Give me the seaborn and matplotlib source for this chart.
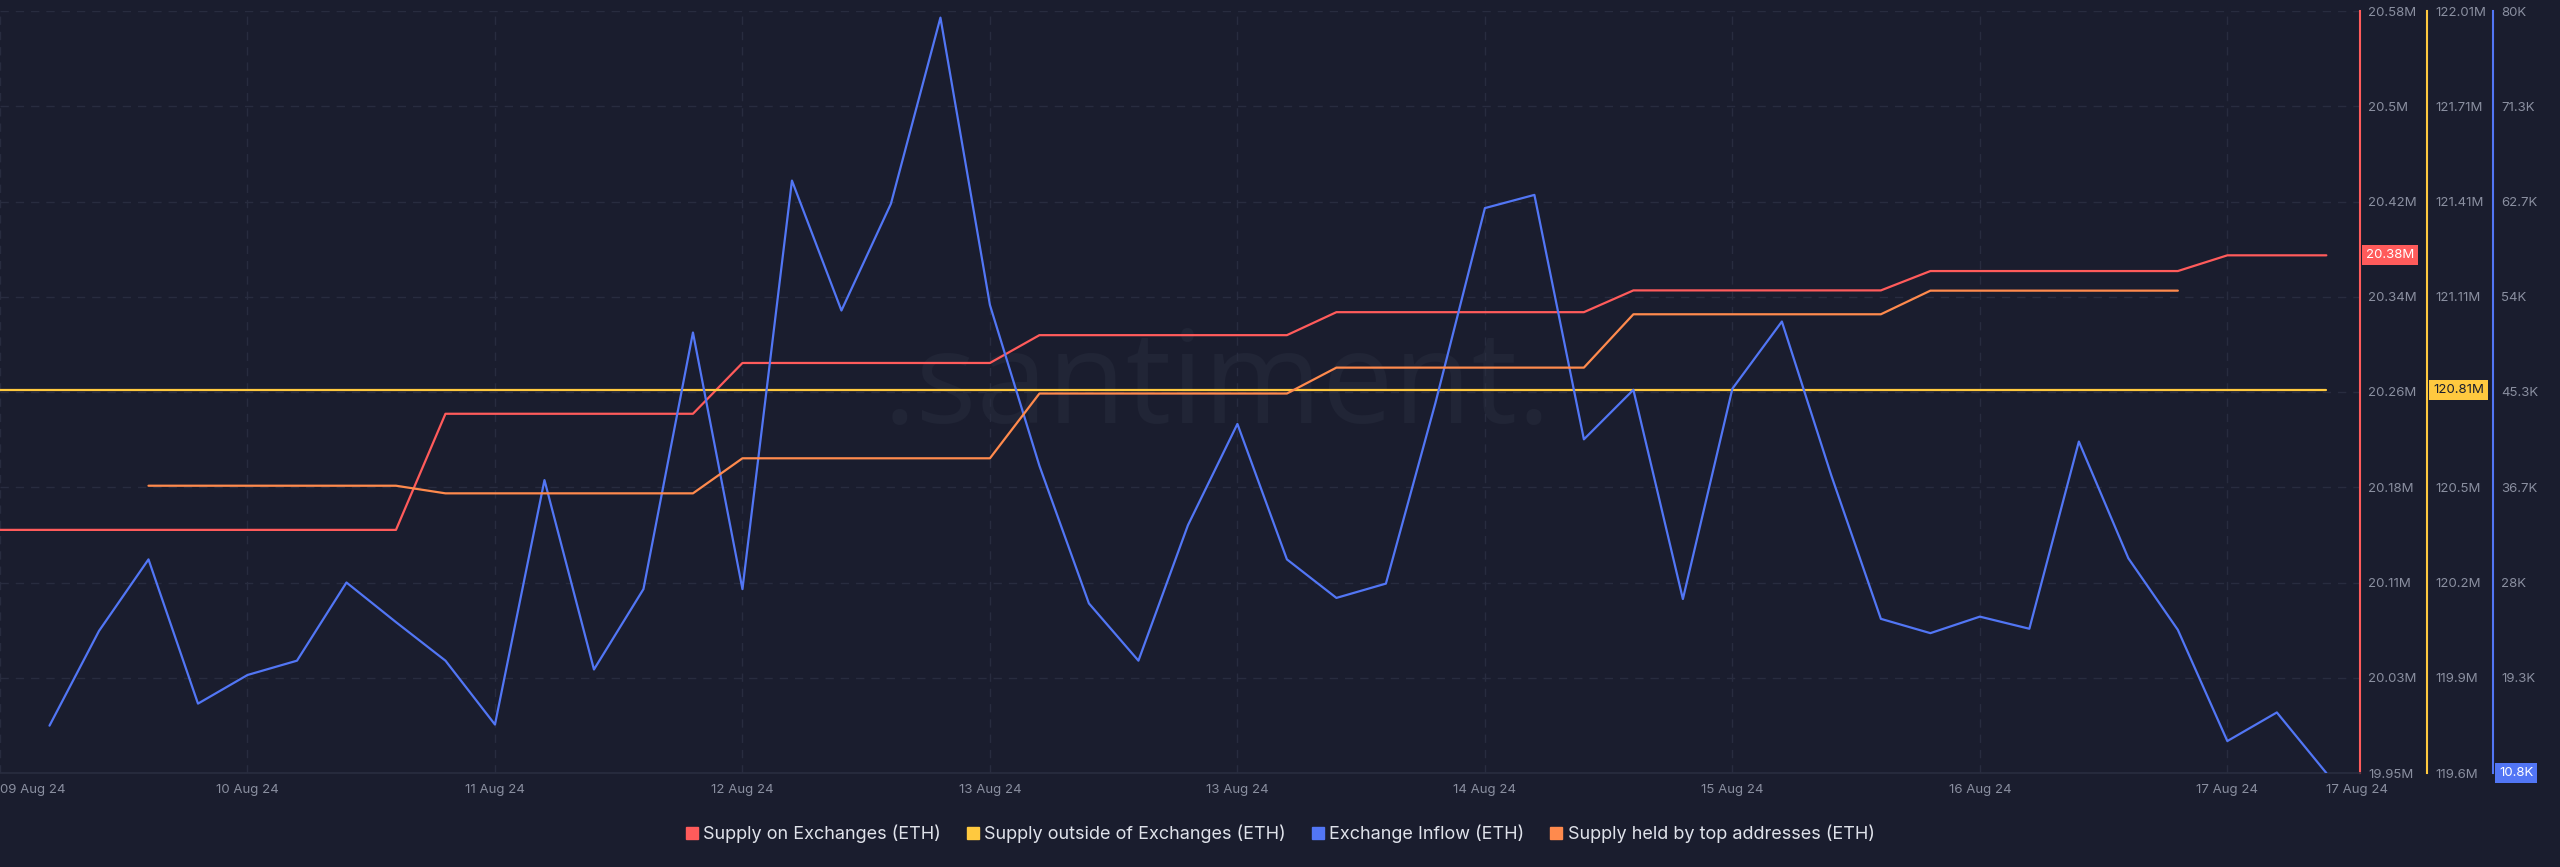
import numpy as np
import pandas as pd
import seaborn as sns
import matplotlib
matplotlib.use("Agg")
from matplotlib import pyplot as plt
from matplotlib.lines import Line2D

# colours
BG = "#1a1d2e"
GRID = "#282c3f"
TICK_TXT = "#8a8fa0"
RED = "#ff5b5b"
YELLOW = "#ffc93f"
BLUE = "#5276f5"
ORANGE = "#ff8a4d"

# x axis: one point every ~4h, labels as shown on the chart
tick_pos = [0, 5, 10, 15, 20, 25, 30, 35, 40, 45, 47]
tick_labels = ["09 Aug 24", "10 Aug 24", "11 Aug 24", "12 Aug 24", "13 Aug 24",
               "13 Aug 24", "14 Aug 24", "15 Aug 24", "16 Aug 24", "17 Aug 24", "17 Aug 24"]

# Supply on Exchanges (ETH), millions, points 0..47
supply_on_exchanges = [20.151, 20.151, 20.151, 20.151, 20.151, 20.151, 20.151, 20.151, 20.151,
                       20.247, 20.247, 20.247, 20.247, 20.247, 20.247,
                       20.289, 20.289, 20.289, 20.289, 20.289, 20.289,
                       20.312, 20.312, 20.312, 20.312, 20.312, 20.312,
                       20.331, 20.331, 20.331, 20.331, 20.331, 20.331,
                       20.349, 20.349, 20.349, 20.349, 20.349, 20.349,
                       20.365, 20.365, 20.365, 20.365, 20.365, 20.365,
                       20.378, 20.378, 20.378]

# Supply outside of Exchanges (ETH), millions, points 0..47
supply_outside = [120.81, 120.81, 120.81, 120.81, 120.81, 120.81, 120.81, 120.81,
                  120.81, 120.81, 120.81, 120.81, 120.81, 120.81, 120.81, 120.81,
                  120.81, 120.81, 120.81, 120.81, 120.81, 120.81, 120.81, 120.81,
                  120.81, 120.81, 120.81, 120.81, 120.81, 120.81, 120.81, 120.81,
                  120.81, 120.81, 120.81, 120.81, 120.81, 120.81, 120.81, 120.81,
                  120.81, 120.81, 120.81, 120.81, 120.81, 120.81, 120.81, 120.81]

# Exchange Inflow (ETH), thousands, points 1..47
inflow_start = 1
exchange_inflow = [15.1, 23.7, 30.2, 17.1, 19.7, 21.0, 28.1, 24.5, 21.0, 15.2,
                   37.4, 20.2, 27.5, 50.8, 27.5, 64.6, 52.8, 62.5, 79.4, 53.3,
                   38.7, 26.2, 21.0, 33.3, 42.5, 30.2, 26.7, 28.0, 44.4, 62.1,
                   63.3, 41.1, 45.6, 26.6, 45.7, 51.8, 37.8, 24.8, 23.5, 25.0,
                   23.9, 40.9, 30.3, 23.8, 13.7, 16.3, 10.8]

# Supply held by top addresses (ETH), millions, points 3..44 (own hidden scale)
top_start = 3
top_addresses = [70.277, 70.277, 70.277, 70.277, 70.277, 70.277,
                 70.267, 70.267, 70.267, 70.267, 70.267, 70.267,
                 70.313, 70.313, 70.313, 70.313, 70.313, 70.313,
                 70.398, 70.398, 70.398, 70.398, 70.398, 70.398,
                 70.432, 70.432, 70.432, 70.432, 70.432, 70.432,
                 70.502, 70.502, 70.502, 70.502, 70.502, 70.502,
                 70.533, 70.533, 70.533, 70.533, 70.533, 70.533]

red_ticks = ["19.95M", "20.03M", "20.11M", "20.18M", "20.26M", "20.34M", "20.42M", "20.5M", "20.58M"]
yellow_ticks = ["119.6M", "119.9M", "120.2M", "120.5M", "120.81M", "121.11M", "121.41M", "121.71M", "122.01M"]
blue_ticks = ["10.8K", "19.3K", "28K", "36.7K", "45.3K", "54K", "62.7K", "71.3K", "80K"]

red_lim = (19.95, 20.58)
yellow_lim = (119.6, 122.01)
blue_lim = (10.8, 80.0)
top_lim = (69.90, 70.90)

sns.set_theme(style="dark", rc={"axes.facecolor": BG, "figure.facecolor": BG})
plt.rcParams["font.family"] = ["Inter", "DejaVu Sans"]

red_df = pd.DataFrame({"idx": np.arange(len(supply_on_exchanges)), "value": supply_on_exchanges})
yellow_df = pd.DataFrame({"idx": np.arange(len(supply_outside)), "value": supply_outside})
blue_df = pd.DataFrame({"idx": np.arange(len(exchange_inflow)) + inflow_start, "value": exchange_inflow})
top_df = pd.DataFrame({"idx": np.arange(len(top_addresses)) + top_start, "value": top_addresses})

W, H = 2560, 867
fig = plt.figure(figsize=(W / 100, H / 100), dpi=100)
ax_right_px, ax_top_px, ax_bot_px = 2360, 11, 773
ax = fig.add_axes([0, 1 - ax_bot_px / H, ax_right_px / W, (ax_bot_px - ax_top_px) / H])
ax.set_facecolor(BG)

x_end = 47.68

ax2 = ax.twinx()
ax3 = ax.twinx()
ax4 = ax.twinx()

sns.lineplot(data=red_df, x="idx", y="value", ax=ax, color=RED, lw=1.6)
sns.lineplot(data=yellow_df, x="idx", y="value", ax=ax2, color=YELLOW, lw=1.6)
sns.lineplot(data=top_df, x="idx", y="value", ax=ax4, color=ORANGE, lw=1.6)
sns.lineplot(data=blue_df, x="idx", y="value", ax=ax3, color=BLUE, lw=1.6)

for a in (ax, ax2, ax3, ax4):
    a.set_xlim(0, x_end)
    a.set_xlabel("")
    a.set_ylabel("")
    for s in a.spines.values():
        s.set_visible(False)

# main (red) axis
ax.set_ylim(*red_lim)
ax.yaxis.tick_right()
ax.set_yticks(np.linspace(red_lim[0], red_lim[1], 9))
ax.set_yticklabels(red_ticks)
ax.spines["right"].set_visible(True)
ax.spines["right"].set_color(RED)
ax.spines["right"].set_linewidth(1.5)
ax.spines["bottom"].set_visible(True)
ax.spines["bottom"].set_color(GRID)
ax.set_xticks(tick_pos)
ax.set_xticklabels(tick_labels)
ax.grid(True, axis="both", color=GRID, lw=1.0, ls=(0, (6, 5)))
ax.get_xgridlines()[-1].set_visible(False)
ax.tick_params(axis="x", length=0, pad=8, labelsize=9.5, labelcolor=TICK_TXT)
ax.tick_params(axis="y", which="both", length=0, pad=6, labelsize=9.5, labelcolor=TICK_TXT,
               left=False, right=True, labelleft=False, labelright=True)
xl = ax.get_xticklabels()
xl[0].set_ha("left")
xl[-1].set_ha("left")

# yellow axis
ax2.set_ylim(*yellow_lim)
ax2.set_yticks(np.linspace(yellow_lim[0], yellow_lim[1], 9))
ax2.set_yticklabels(yellow_ticks)
ax2.spines["right"].set_visible(True)
ax2.spines["right"].set_position(("axes", 2427 / ax_right_px))
ax2.spines["right"].set_color(YELLOW)
ax2.spines["right"].set_linewidth(1.5)
ax2.tick_params(axis="y", length=0, pad=6, labelsize=9.5, labelcolor=TICK_TXT)
ax2.grid(False)

# blue axis
ax3.set_ylim(*blue_lim)
ax3.set_yticks(np.linspace(blue_lim[0], blue_lim[1], 9))
ax3.set_yticklabels(blue_ticks)
ax3.spines["right"].set_visible(True)
ax3.spines["right"].set_position(("axes", 2493 / ax_right_px))
ax3.spines["right"].set_color(BLUE)
ax3.spines["right"].set_linewidth(1.5)
ax3.tick_params(axis="y", length=0, pad=6, labelsize=9.5, labelcolor=TICK_TXT)
ax3.grid(False)

# hidden axis for top addresses
ax4.set_ylim(*top_lim)
ax4.set_yticks([])
ax4.grid(False)

# last value badges
badge = dict(fontsize=9.5, va="center", ha="left", zorder=10, clip_on=False)
ax.text(1 + 6 / ax_right_px, supply_on_exchanges[-1], "20.38M", color="white",
        transform=ax.get_yaxis_transform(),
        bbox=dict(boxstyle="square,pad=0.3", fc=RED, ec="none"), **badge)
ax2.text(2433 / ax_right_px, supply_outside[-1], "120.81M", color="#1a1d2e",
         transform=ax2.get_yaxis_transform(),
         bbox=dict(boxstyle="square,pad=0.3", fc=YELLOW, ec="none"), **badge)
ax3.text(2499 / ax_right_px, exchange_inflow[-1], "10.8K", color="white",
         transform=ax3.get_yaxis_transform(),
         bbox=dict(boxstyle="square,pad=0.3", fc=BLUE, ec="none"), **badge)

# watermark, behind the lines
ax.text(1217 / W, 1 - 423 / H, ".santiment.", fontsize=92, color="#212536",
        ha="center", va="baseline", family=["Open Sans", "DejaVu Sans"],
        transform=fig.transFigure, zorder=0.5)

# legend
names = ["Supply on Exchanges (ETH)", "Supply outside of Exchanges (ETH)",
         "Exchange Inflow (ETH)", "Supply held by top addresses (ETH)"]
colors = [RED, YELLOW, BLUE, ORANGE]
handles = [Line2D([], [], marker="s", ls="", color=c, ms=8) for c in colors]
fig.legend(handles, names, loc="center", bbox_to_anchor=(0.5, 1 - 834 / H), ncol=4,
           frameon=False, fontsize=13, labelcolor="#dfe2ea", handlelength=0.7,
           handletextpad=0.3, columnspacing=1.4)

fig.savefig("out.png", dpi=100, facecolor=BG)
